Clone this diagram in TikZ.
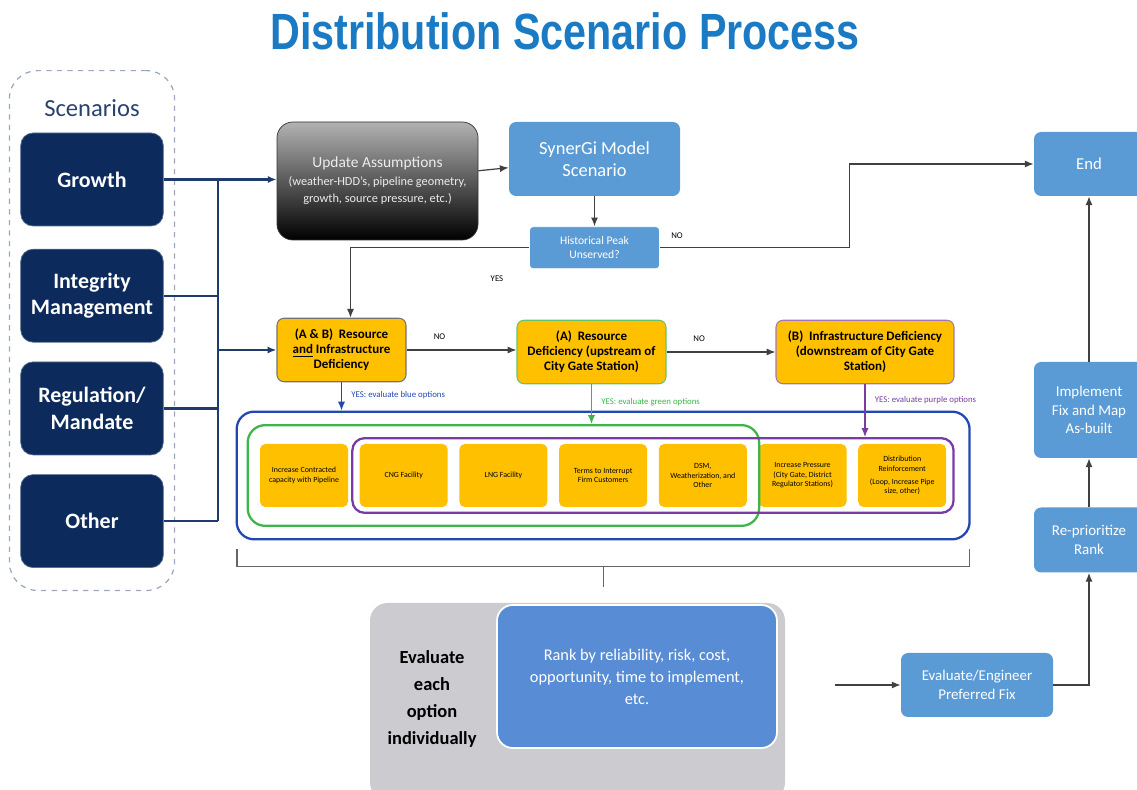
\documentclass[tikz,border=0pt]{standalone}
\usepackage{fontspec}
\setmainfont{Carlito}
\newfontfamily\titlefont{Liberation Sans}
\usetikzlibrary{arrows.meta, positioning, fit, calc}

\definecolor{scnavy}{HTML}{0C2B5C}
\definecolor{busnavy}{HTML}{1F3B6E}
\definecolor{midblue}{HTML}{5B9BD5}
\definecolor{rankblue}{HTML}{588DD5}
\definecolor{defyellow}{HTML}{FFC000}
\definecolor{optblue}{HTML}{2247B0}
\definecolor{optgreen}{HTML}{3DB54A}
\definecolor{optpurple}{HTML}{7A3CA3}
\definecolor{titleblue}{HTML}{1A7BC4}
\definecolor{evalgray}{HTML}{CBCBD0}

\begin{document}
\begin{tikzpicture}[
    >={Latex[length=5pt,width=4pt]},
    scenbox/.style={
        draw=scnavy!70,
        fill=scnavy,
        rounded corners=7pt,
        minimum width=2.85cm,
        minimum height=1.86cm,
        align=center,
        text=white,
        font=\fontsize{12.5}{15}\selectfont\bfseries
    },
    bluebox/.style={
        fill=midblue,
        rounded corners=4pt,
        align=center,
        text=white,
        font=\fontsize{8.5}{10.5}\selectfont
    },
    defbox/.style={
        draw=#1,
        fill=defyellow,
        rounded corners=4pt,
        minimum height=1.27cm,
        align=center,
        line width=0.6pt,
        font=\fontsize{7.4}{8.6}\selectfont\bfseries
    },
    optbox/.style={
        fill=defyellow,
        rounded corners=3pt,
        minimum width=1.76cm,
        minimum height=1.26cm,
        align=center,
        inner sep=1pt,
        font=\fontsize{4.5}{5.4}\selectfont
    },
    frame/.style={
        draw=#1,
        rounded corners=10pt,
        line width=1.3pt
    },
    flow/.style={
        ->,
        draw=black!75,
        line width=0.7pt
    },
    busline/.style={
        draw=busnavy,
        line width=1.3pt
    },
    smalltxt/.style={
        font=\fontsize{5}{6}\selectfont
    }
]

\useasboundingbox (0,0) rectangle (22.74,-15.8);
\clip (0,0) rectangle (22.74,-15.8);

% =====================
% Title
% =====================

\node[font=\titlefont\fontsize{29}{32}\selectfont\bfseries, text=titleblue] (title) at (11.3,-0.62) {\scalebox{0.81}[1]{Distribution Scenario Process}};

% =====================
% Scenarios column
% =====================

\node[scenbox] (growth) at (1.84,-3.59) {Growth};
\node[scenbox, below=0.45cm of growth] (integrity) {Integrity\\Management};
\node[scenbox, below=0.38cm of integrity] (regulation) {Regulation/\\Mandate};
\node[scenbox, below=0.38cm of regulation] (other) {Other};

\node[font=\fontsize{14}{16}\selectfont, text=busnavy!90!gray, above=0.2cm of growth] (scentitle) {Scenarios};

\node[draw=busnavy!45, dashed, rounded corners=16pt, line width=0.7pt,
    fit=(scentitle)(growth)(other), inner xsep=0.22cm, inner ysep=0.45cm] (scenarios) {};

% =====================
% Model and peak check
% =====================

\node[draw=black!80, rounded corners=9pt, top color=gray!60, bottom color=black,
    minimum width=4.02cm, minimum height=2.36cm, align=center, text=gray!15,
    font=\fontsize{8.8}{10}\selectfont] (update) at (7.55,-3.62) {
    Update Assumptions\\
    {\fontsize{7}{8.6}\selectfont (weather-HDD's, pipeline geometry,}\\
    {\fontsize{7}{8.6}\selectfont growth, source pressure, etc.)}
};

\node[bluebox, minimum width=3.42cm, minimum height=1.48cm,
    font=\fontsize{10.5}{12.5}\selectfont] (synergi) at (11.89,-3.18) {SynerGi Model\\Scenario};

\node[bluebox, draw=white, minimum width=2.6cm, minimum height=0.84cm, rounded corners=2pt,
    font=\fontsize{6.6}{8}\selectfont, below=0.6cm of synergi] (hist) {Historical Peak\\Unserved?};

\node[bluebox, minimum width=2.2cm, minimum height=1.28cm,
    font=\fontsize{9.5}{11}\selectfont] (end) at (21.78,-3.28) {End};

\draw[flow] (update) -- (synergi);
\draw[flow] (synergi) -- (hist);

% =====================
% Scenario bus
% =====================

\coordinate (bustop) at (4.36,-3.59);
\draw[busline] (bustop) -- (bustop |- other);
\draw[busline, ->] (growth.east) -- (update.west |- growth);
\draw[busline] (integrity.east) -- (integrity -| bustop);
\draw[busline] (regulation.east) -- (regulation -| bustop);
\draw[busline] (other.east) -- (other -| bustop);

% =====================
% Deficiency chain
% =====================

\node[defbox=black!55, minimum width=2.58cm] (abdef) at (6.83,-7.0) {
    (A \& B)~~Resource\\
    \underline{and} Infrastructure\\
    Deficiency
};

\node[defbox=optgreen!80, minimum width=2.98cm] (adef) at (11.83,-7.04) {
    (A)~~Resource\\
    Deficiency (upstream of\\
    City Gate Station)
};

\node[defbox=optpurple!70, minimum width=3.56cm] (bdef) at (17.3,-7.04) {
    (B)~~Infrastructure Deficiency\\
    (downstream of City Gate\\
    Station)
};

\draw[busline, ->] (abdef.west -| bustop) -- (abdef.west);

\draw[flow] (abdef) -- node[smalltxt, above=2pt, pos=0.3] {NO} (abdef -| adef.west);
\draw[flow] (adef) -- node[smalltxt, above=2pt, pos=0.3] {NO} (adef -| bdef.west);

\draw[flow] (hist.east) -- ++(3.8,0) |- (end.west);
\node[smalltxt] at (13.54,-4.72) {NO};
\draw[flow] (hist.west) -| ($(abdef.north)+(0.18,0)$);
\node[smalltxt] at (9.94,-5.58) {YES};

% =====================
% Options
% =====================

\node[optbox] (opt1) at (6.08,-9.51) {Increase Contracted\\capacity with Pipeline};
\node[optbox, right=0.22cm of opt1] (opt2) {CNG Facility};
\node[optbox, right=0.22cm of opt2] (opt3) {LNG Facility};
\node[optbox, right=0.22cm of opt3] (opt4) {Terms to Interrupt\\Firm Customers};
\node[optbox, right=0.22cm of opt4] (opt5) {DSM,\\Weatherization, and\\Other};
\node[optbox, right=0.22cm of opt5] (opt6) {Increase Pressure\\(City Gate, District\\Regulator Stations)};
\node[optbox, right=0.22cm of opt6] (opt7) {Distribution\\Reinforcement\\[2pt](Loop, Increase Pipe\\size, other)};

\node[frame=optblue, fit=(opt1)(opt7), inner xsep=0.46cm, inner ysep=0.64cm] (blueframe) {};
\node[frame=optgreen, fit=(opt1)(opt5), inner xsep=0.24cm, inner ysep=0.37cm] (greenframe) {};
\node[frame=optpurple, rounded corners=7pt, fit=(opt2)(opt7), inner xsep=0.14cm, inner ysep=0.11cm] (purpleframe) {};

\draw[->, draw=optblue, line width=0.6pt] (abdef.south) -- (abdef.south |- blueframe.north)
    node[smalltxt, text=optblue, pos=0.45, right=2pt] {YES: evaluate blue options};
\draw[->, draw=optgreen, line width=0.6pt] (adef.south) -- (adef.south |- greenframe.north)
    node[smalltxt, text=optgreen, pos=0.45, right=2pt] {YES: evaluate green options};
\draw[->, draw=optpurple, line width=0.6pt] (bdef.south) -- (bdef.south |- purpleframe.north)
    node[smalltxt, text=optpurple, pos=0.3, right=2pt] {YES: evaluate purple options};

% bracket under the options
\coordinate (brleft) at ($(blueframe.south west)+(0.03,-0.18)$);
\coordinate (brright) at ($(blueframe.south east)+(-0.03,-0.18)$);
\coordinate (brmid) at ($(brleft)!0.5!(brright)+(0,-0.34)$);
\draw[draw=black!60, line width=0.6pt] (brleft) -- ++(0,-0.34) -- ($(brright)+(0,-0.34)$) -- (brright);
\draw[draw=black!60, line width=0.6pt] (brmid) -- ++(0,-0.42);

% =====================
% Evaluation and ranking
% =====================

\node[fill=evalgray, rounded corners=10pt, minimum width=8.3cm, minimum height=3.94cm] (evalarea) at (11.55,-14.03) {};

\node[fill=rankblue, draw=white, line width=1pt, rounded corners=9pt, minimum width=5.6cm, minimum height=2.86cm,
    text=white, align=center, font=\fontsize{9.3}{12.5}\selectfont] (rank) at (12.74,-13.53) {
    Rank by reliability, risk, cost,\\
    opportunity, time to implement,\\
    etc.
};

\node[align=center, font=\fontsize{10.5}{15.4}\selectfont\bfseries] (evaltext) at (8.64,-13.98) {
    Evaluate\\each\\option\\individually
};

\node[bluebox, minimum width=3.04cm, minimum height=1.28cm] (evaleng) at (19.54,-13.7) {Evaluate/Engineer\\Preferred Fix};
\node[bluebox, minimum width=2.2cm, minimum height=1.3cm] (reprio) at (21.78,-10.8) {Re-prioritize\\Rank};
\node[bluebox, minimum width=2.2cm, minimum height=1.92cm] (impl) at (21.78,-8.2) {Implement\\Fix and Map\\As-built};

\coordinate[left=1.32cm of evaleng.west] (evalin);
\draw[flow] (evalin) -- (evaleng.west);
\draw[flow] (evaleng.east) -| (reprio.south);
\draw[flow] (reprio) -- (impl);
\draw[flow] (impl) -- (end);

\end{tikzpicture}
\end{document}
